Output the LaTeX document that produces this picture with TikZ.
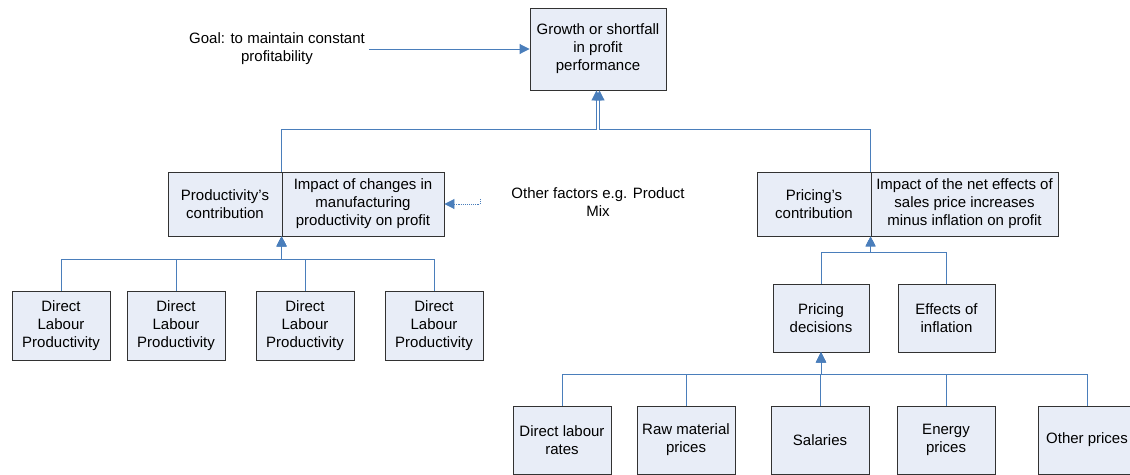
\documentclass[tikz,border=0pt]{standalone}
\usepackage{fontspec}
\setmainfont{Liberation Sans}
\usetikzlibrary{arrows.meta}
\definecolor{boxfill}{RGB}{232,237,247}
\definecolor{boxline}{RGB}{50,50,50}
\definecolor{linkblue}{RGB}{74,126,187}
\begin{document}
\begin{tikzpicture}[x=1pt, y=-1pt]
    \tikzstyle{box} = [rectangle, draw=boxline, line width=0.9pt, fill=boxfill, align=center, inner sep=1pt, font=\fontsize{15}{18}\selectfont]
    \tikzstyle{note} = [align=center, inner sep=4pt, font=\fontsize{15}{18}\selectfont]
    \tikzstyle{arr} = [draw=linkblue, line width=0.9pt, -{Triangle[width=10pt, length=10pt]}]
    \useasboundingbox (0,0) rectangle (1130,474);

    \node [box, minimum width=136pt, minimum height=82pt] (top) at (598,49) {Growth or shortfall\\in profit\\performance};
    \node [note] (goal) at (277,49) {Goal: to maintain constant\\profitability};

    \node [box, minimum width=114pt, minimum height=64pt] (prodL) at (225,204) {Productivity’s\\contribution};
    \node [box, minimum width=162pt, minimum height=64pt] (prodR) at (363,204) {Impact of changes in\\manufacturing\\productivity on profit};
    \node [note] (other) at (598,202) {Other factors e.g. Product\\Mix};
    \coordinate (otherin) at (480,199);

    \node [box, minimum width=114pt, minimum height=64pt] (priL) at (814,204) {Pricing’s\\contribution};
    \node [box, minimum width=187pt, minimum height=64pt] (priR) at (964.5,204) {Impact of the net effects of\\sales price increases\\minus inflation on profit};

    \node [box, minimum width=98pt, minimum height=69pt] (d1) at (61,325.5) {Direct\\Labour\\Productivity};
    \node [box, minimum width=98pt, minimum height=69pt] (d2) at (176,325.5) {Direct\\Labour\\Productivity};
    \node [box, minimum width=98pt, minimum height=69pt] (d3) at (305,325.5) {Direct\\Labour\\Productivity};
    \node [box, minimum width=98pt, minimum height=69pt] (d4) at (434,325.5) {Direct\\Labour\\Productivity};

    \node [box, minimum width=96pt, minimum height=68pt] (pd) at (821,318) {Pricing\\decisions};
    \node [box, minimum width=97pt, minimum height=68pt] (ei) at (946.5,318) {Effects of\\inflation};

    \node [box, minimum width=98pt, minimum height=68pt] (b1) at (562,440) {Direct labour\\rates};
    \node [box, minimum width=98pt, minimum height=68pt] (b2) at (686,440) {Raw material\\prices};
    \node [box, minimum width=98pt, minimum height=68pt] (b3) at (820,440) {Salaries};
    \node [box, minimum width=98pt, minimum height=68pt] (b4) at (946,440) {Energy\\prices};
    \node [box, minimum width=98pt, minimum height=68pt] (b5) at (1087,440) {Other prices};

    \draw [arr] (goal.east) -- (goal.east -| top.west);
    \draw [arr] (prodR.north west) -- ++(0,-42) -| ([xshift=-1.5pt]top.south);
    \draw [arr] (priR.north west) -- ++(0,-42) -| ([xshift=1.5pt]top.south);
    \draw [arr, densely dotted] (otherin) |- (prodR.east);

    \foreach \d in {d1,d2,d3,d4}
        \draw [arr] (\d.north) -- ++(0,-31) -| (prodR.south west);
    \foreach \p in {pd,ei}
        \draw [arr] (\p.north) -- ++(0,-31) -| (priR.south west);
    \foreach \b in {b1,b2,b3,b4,b5}
        \draw [arr] (\b.north) -- ++(0,-31) -| (pd.south);
\end{tikzpicture}
\end{document}
